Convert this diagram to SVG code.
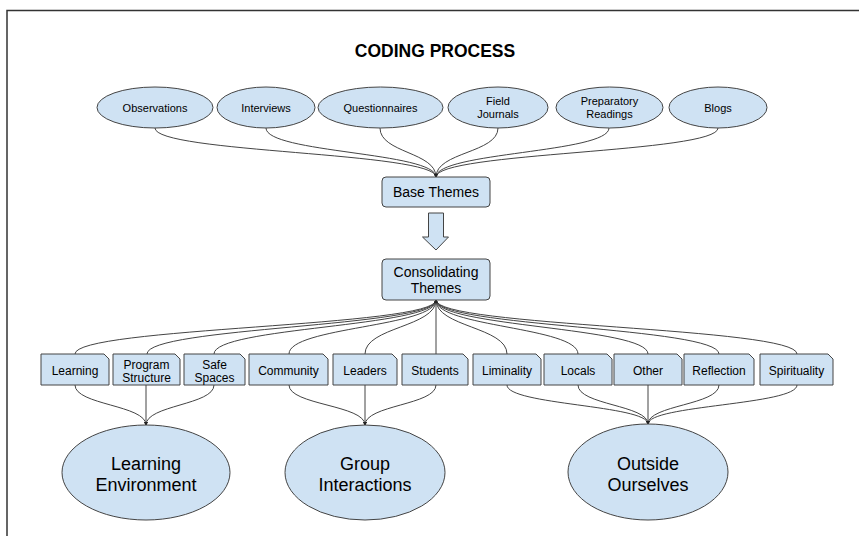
<svg xmlns="http://www.w3.org/2000/svg" width="859" height="536" viewBox="0 0 859 536">
<defs>
<marker id="ah" viewBox="0 0 6 6" refX="5" refY="3" markerWidth="4" markerHeight="4" orient="auto" markerUnits="userSpaceOnUse">
<path d="M0,0 L6,3 L0,6 Z" fill="#222"/>
</marker>
</defs>
<style>
.node{fill:#cfe2f3;stroke:#444;stroke-width:1}
.t{font-family:"Liberation Sans",Arial,sans-serif;fill:#000;text-anchor:middle}
.s11{font-size:11px}
.s12{font-size:12px}
.s14{font-size:14px}
.s18{font-size:18px}
.conn path{fill:none;stroke:#444;stroke-width:1;marker-end:url(#ah)}
</style>
<rect width="859" height="536" fill="#fff"/>
<path d="M7,536 V10.5 H859" fill="none" stroke="#333" stroke-width="1.5"/>
<text id="title" class="t" x="435" y="57" font-size="17.5" font-weight="bold">CODING PROCESS</text>

<g class="conn" id="connectors">
<path d="M155,128 C155,153 436,152 436,177"/>
<path d="M266,128 C266,153 436,152 436,177"/>
<path d="M380,128 C380,153 436,152 436,177"/>
<path d="M498,128 C498,153 436,152 436,177"/>
<path d="M609,128 C609,153 436,152 436,177"/>
<path d="M718,128 C718,153 436,152 436,177"/>

<path d="M75,354 C75,327 436,327 436,300"/>
<path d="M147,354 C147,327 436,327 436,300"/>
<path d="M214,354 C214,327 436,327 436,300"/>
<path d="M289,354 C289,327 436,327 436,300"/>
<path d="M365,354 C365,327 436,327 436,300"/>
<path d="M436,354 L436,300"/>
<path d="M507,354 C507,327 436,327 436,300"/>
<path d="M578,354 C578,327 436,327 436,300"/>
<path d="M648,354 C648,327 436,327 436,300"/>
<path d="M719,354 C719,327 436,327 436,300"/>
<path d="M797,354 C797,327 436,327 436,300"/>

<path d="M75,385 C75,405 146,405 146,425"/>
<path d="M146,385 L146,425"/>
<path d="M214,385 C214,405 146,405 146,425"/>
<path d="M289,385 C289,405 365,405 365,425"/>
<path d="M365,385 L365,425"/>
<path d="M436,385 C436,405 365,405 365,425"/>
<path d="M507,385 C507,405 648,405 648,424"/>
<path d="M578,385 C578,405 648,405 648,424"/>
<path d="M648,385 L648,424"/>
<path d="M719,385 C719,405 648,405 648,424"/>
<path d="M797,385 C797,405 648,405 648,424"/>
</g>

<g id="observations"><ellipse class="node" cx="155" cy="107.5" rx="58" ry="20.5"/><text class="t s11" x="155" y="112">Observations</text></g>
<g id="interviews"><ellipse class="node" cx="266" cy="107.5" rx="49" ry="20.5"/><text class="t s11" x="266" y="112">Interviews</text></g>
<g id="questionnaires"><ellipse class="node" cx="380.5" cy="107.5" rx="62.5" ry="20.5"/><text class="t s11" x="380.5" y="112">Questionnaires</text></g>
<g id="field-journals"><ellipse class="node" cx="498" cy="107.5" rx="50" ry="20.5"/><text class="t s11" x="498" y="105">Field</text><text class="t s11" x="498" y="118">Journals</text></g>
<g id="preparatory-readings"><ellipse class="node" cx="609.5" cy="107.5" rx="53.5" ry="20.5"/><text class="t s11" x="609.5" y="105">Preparatory</text><text class="t s11" x="609.5" y="118">Readings</text></g>
<g id="blogs"><ellipse class="node" cx="718" cy="107.5" rx="49" ry="20.5"/><text class="t s11" x="718" y="112">Blogs</text></g>

<g id="base-themes"><rect class="node" x="382" y="177" width="108" height="30" rx="4"/><text class="t s14" x="436" y="197">Base Themes</text></g>

<g id="arrow"><path class="node" d="M428.5,213 H443.5 V237 H448.5 L436,250 L422.5,237 H428.5 Z"/></g>

<g id="consolidating-themes"><rect class="node" x="382" y="259" width="108" height="41" rx="4"/><text class="t s14" x="436" y="277">Consolidating</text><text class="t s14" x="436" y="293">Themes</text></g>

<g id="learning"><path class="node" d="M41,354 H104 L109,359 V385 H41 Z"/><text class="t s12" x="75" y="375">Learning</text></g>
<g id="program-structure"><path class="node" d="M113,354 H175 L180,359 V385 H113 Z"/><text class="t s12" x="146.5" y="369">Program</text><text class="t s12" x="146.5" y="382">Structure</text></g>
<g id="safe-spaces"><path class="node" d="M184,354 H240 L245,359 V385 H184 Z"/><text class="t s12" x="214.5" y="369">Safe</text><text class="t s12" x="214.5" y="382">Spaces</text></g>
<g id="community"><path class="node" d="M249,354 H323 L328,359 V385 H249 Z"/><text class="t s12" x="288.5" y="375">Community</text></g>
<g id="leaders"><path class="node" d="M333,354 H392 L397,359 V385 H333 Z"/><text class="t s12" x="365" y="375">Leaders</text></g>
<g id="students"><path class="node" d="M402,354 H463 L468,359 V385 H402 Z"/><text class="t s12" x="435" y="375">Students</text></g>
<g id="liminality"><path class="node" d="M473,354 H536 L541,359 V385 H473 Z"/><text class="t s12" x="507" y="375">Liminality</text></g>
<g id="locals"><path class="node" d="M544,354 H607 L612,359 V385 H544 Z"/><text class="t s12" x="578" y="375">Locals</text></g>
<g id="other"><path class="node" d="M614,354 H677 L682,359 V385 H614 Z"/><text class="t s12" x="648" y="375">Other</text></g>
<g id="reflection"><path class="node" d="M684,354 H749 L754,359 V385 H684 Z"/><text class="t s12" x="719" y="375">Reflection</text></g>
<g id="spirituality"><path class="node" d="M760,354 H828 L833,359 V385 H760 Z"/><text class="t s12" x="796.5" y="375">Spirituality</text></g>

<g id="learning-environment"><ellipse class="node" cx="146" cy="472.5" rx="84" ry="47.5"/><text class="t s18" x="146" y="470">Learning</text><text class="t s18" x="146" y="491">Environment</text></g>
<g id="group-interactions"><ellipse class="node" cx="365" cy="472.5" rx="80" ry="47.5"/><text class="t s18" x="365" y="470">Group</text><text class="t s18" x="365" y="491">Interactions</text></g>
<g id="outside-ourselves"><ellipse class="node" cx="648" cy="472" rx="80" ry="48"/><text class="t s18" x="648" y="470">Outside</text><text class="t s18" x="648" y="491">Ourselves</text></g>
</svg>
